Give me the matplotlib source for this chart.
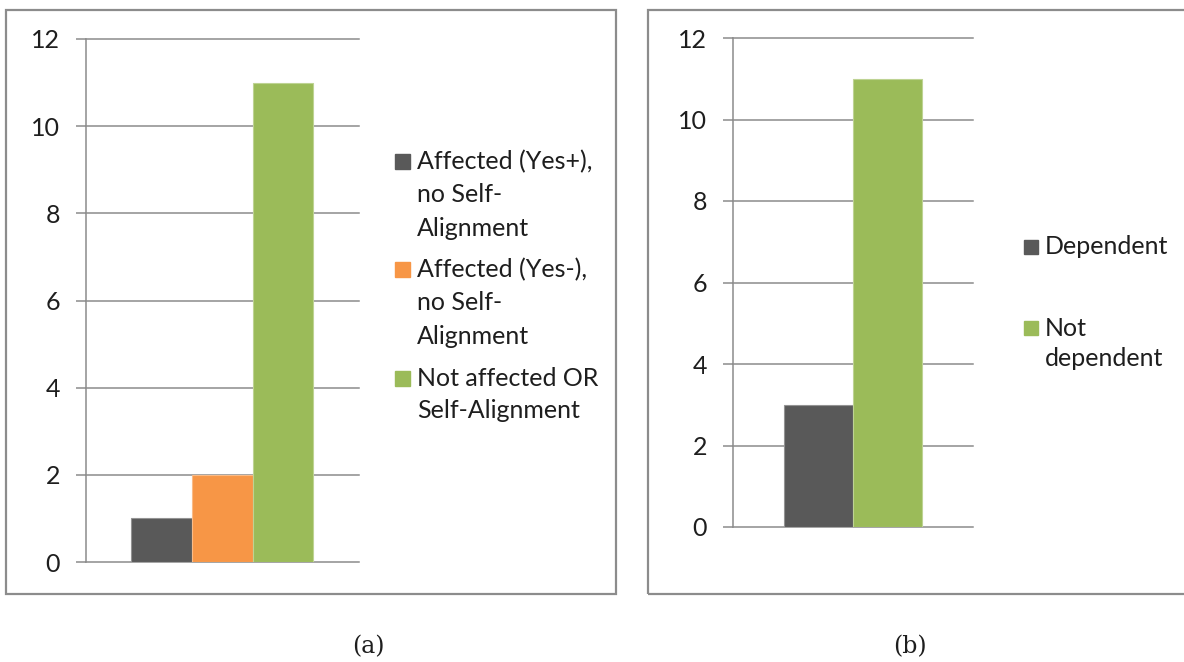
import matplotlib
matplotlib.use('Agg')
import matplotlib.pyplot as plt
from matplotlib.patches import Rectangle

# panel (a)
a_labels = ['Affected (Yes+),\nno Self-\nAlignment',
            'Affected (Yes-),\nno Self-\nAlignment',
            'Not affected OR\nSelf-Alignment']
a_values = [1, 2, 11]
a_colors = ['#595959', '#F79646', '#9BBB59']

# panel (b)
b_labels = ['Dependent', 'Not\ndependent']
b_values = [3, 11]
b_colors = ['#595959', '#9BBB59']

y_ticks = [0, 2, 4, 6, 8, 10, 12]

W, H = 1184, 662
GRAY = '#8c8c8c'
TXT = '#1e1e1e'
FONT = 'Lato'

plt.rcParams['font.family'] = [FONT, 'DejaVu Sans']

fig = plt.figure(figsize=(W / 100, H / 100), dpi=100)


def fx(x):
    return x / W


def fy(y):
    return 1 - y / H


def lighter(c, f=0.35):
    c = matplotlib.colors.to_rgb(c)
    return tuple(v + (1 - v) * f for v in c)


def draw_panel(rect, values, colors):
    ax = fig.add_axes(rect)
    n = len(values)
    w = 1.0 / (n + 1.5)
    for i, (v, c) in enumerate(zip(values, colors)):
        x = (i - (n - 1) / 2) * w
        ax.bar(x, v, width=w, color=c, edgecolor=lighter(c), linewidth=0.8, zorder=3)
    ax.set_xlim(-0.5, 0.5)
    ax.set_ylim(0, 12)
    ax.set_yticks(y_ticks)
    ax.set_xticks([])
    for s in ['top', 'right', 'bottom']:
        ax.spines[s].set_visible(False)
    ax.spines['left'].set_color(GRAY)
    ax.spines['left'].set_linewidth(1.1)
    ax.yaxis.grid(True, color=GRAY, linewidth=1.1)
    for gl in ax.get_ygridlines():
        gl.set_clip_on(False)
    ax.set_axisbelow(True)
    ax.tick_params(axis='y', length=7.2, width=1.1, color=GRAY, pad=11.5,
                   labelsize=18, labelcolor=TXT)
    return ax


def draw_legend(labels, colors, x0, y0, step, gap, box):
    y = y0
    for lab, c in zip(labels, colors):
        lines = lab.split('\n')
        fig.patches.append(Rectangle((fx(x0), fy(y + box / 2)), box / W, box / H,
                                     transform=fig.transFigure, color=c))
        for k, ln in enumerate(lines):
            fig.text(fx(x0 + box + 7), fy(y + k * step), ln, fontsize=18,
                     color=TXT, va='center', ha='left')
        y += len(lines) * step + gap


# outer frames
fig.patches.append(Rectangle((fx(6), fy(594)), (616 - 6) / W, (594 - 10) / H,
                             transform=fig.transFigure, fill=False,
                             edgecolor=GRAY, linewidth=1.6))
fig.patches.append(Rectangle((fx(648), fy(594)), (1190 - 648) / W, (594 - 10) / H,
                             transform=fig.transFigure, fill=False,
                             edgecolor=GRAY, linewidth=1.6, clip_on=False))

draw_panel([fx(86), fy(562), 273 / W, 523 / H], a_values, a_colors)
draw_panel([fx(733), fy(527), 240 / W, 489 / H], b_values, b_colors)

draw_legend(a_labels, a_colors, 395, 162, 33, 9, 15)
draw_legend(b_labels, b_colors, 1024, 247, 31, 50, 14)

fig.text(fx(368), fy(647), '(a)', fontsize=17, family='DejaVu Serif',
         color=TXT, ha='center', va='center')
fig.text(fx(910), fy(647), '(b)', fontsize=17, family='DejaVu Serif',
         color=TXT, ha='center', va='center')

fig.savefig('out.png', dpi=100, facecolor='white')
